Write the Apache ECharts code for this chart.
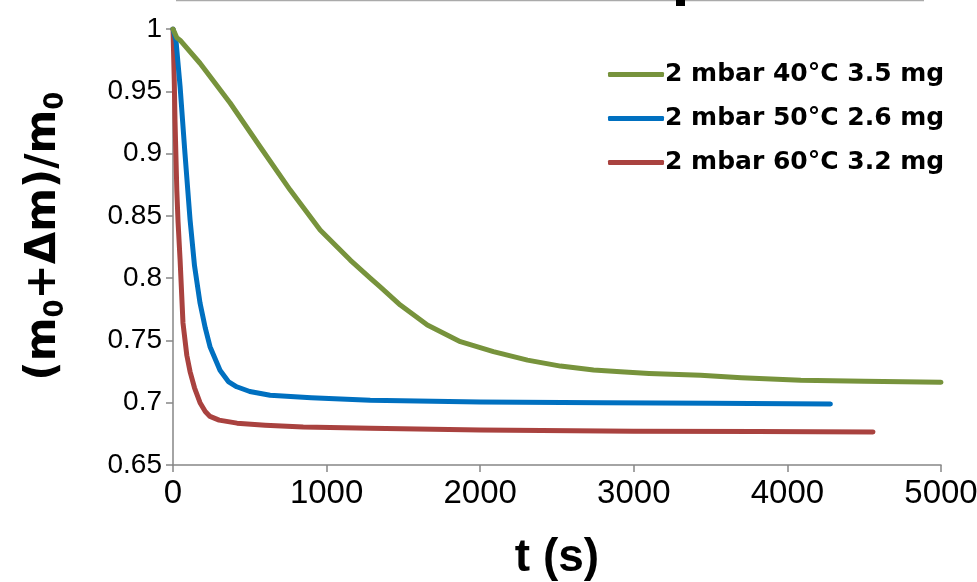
<!DOCTYPE html>
<html>
<head>
<meta charset="utf-8">
<script src="https://cdn.jsdelivr.net/npm/echarts@6/dist/echarts.min.js"></script>
<style>html,body{margin:0;padding:0;background:#fff}#c{width:977px;height:582px}</style>
</head>
<body>
<div id="c"></div>
<script>
// Series names
const seriesNames = ['2 mbar 40°C 3.5 mg', '2 mbar 50°C 2.6 mg', '2 mbar 60°C 3.2 mg'];

// 40°C series: time (s) and (m0+Δm)/m0
const t40 = [0, 25, 46, 176, 372, 567, 763, 958, 1154, 1284, 1349, 1480, 1656, 1871, 2086, 2308, 2523, 2738, 2914, 3100, 3435, 3700, 4087, 4500, 5000];
const v40 = [1.0, 0.993, 0.991, 0.9725, 0.9406, 0.9055, 0.8707, 0.8386, 0.8145, 0.800, 0.793, 0.7784, 0.7623, 0.749, 0.741, 0.7342, 0.7294, 0.7262, 0.7248, 0.7235, 0.722, 0.720, 0.718, 0.7172, 0.7165];

// 50°C series
const t50 = [0, 20, 46, 78, 111, 140, 176, 210, 241, 306, 360, 415, 500, 632, 900, 1284, 2000, 2800, 3500, 4280];
const v50 = [1.0, 0.99, 0.954, 0.900, 0.847, 0.81, 0.780, 0.76, 0.745, 0.726, 0.717, 0.7128, 0.709, 0.706, 0.704, 0.702, 0.7005, 0.700, 0.6995, 0.699];

// 60°C series
const t60 = [0, 8, 13, 25, 33, 46, 65, 90, 111, 140, 176, 210, 241, 300, 417, 600, 848, 1284, 2000, 3000, 3800, 4557];
const v60 = [1.0, 0.96, 0.927, 0.87, 0.845, 0.815, 0.764, 0.738, 0.725, 0.712, 0.700, 0.693, 0.689, 0.686, 0.6836, 0.682, 0.6805, 0.6795, 0.678, 0.677, 0.6768, 0.6764];

// Axis ticks
const xTicks = [0, 1000, 2000, 3000, 4000, 5000];
const yTicks = [0.65, 0.7, 0.75, 0.8, 0.85, 0.9, 0.95, 1];

const colors = ['#77933C', '#0070C0', '#A9423F'];
const zip = (a, b) => a.map((x, i) => [x, b[i]]);
const datasets = [zip(t40, v40), zip(t50, v50), zip(t60, v60)];

const chart = echarts.init(document.getElementById('c'), null, {renderer: 'canvas'});
const axisColor = '#868686';
chart.setOption({
  animation: false,
  backgroundColor: '#fff',
  grid: {left: 173, right: 36, top: 29, bottom: 117, containLabel: false, outerBoundsMode: 'none'},
  legend: {
    orient: 'vertical',
    left: 603,
    top: 57,
    itemWidth: 56,
    itemHeight: 5,
    itemGap: 19,
    icon: 'roundRect',
    textStyle: {fontFamily: 'DejaVu Sans', fontWeight: 'bold', fontSize: 25, color: '#000', padding: [0, 0, 0, -4]},
    data: seriesNames
  },
  xAxis: {
    type: 'value',
    min: xTicks[0], max: xTicks[xTicks.length - 1], interval: 1000,
    name: 't (s)',
    nameLocation: 'middle',
    nameGap: 70,
    nameTextStyle: {fontFamily: 'Liberation Sans', fontWeight: 'bold', fontSize: 46, color: '#000'},
    axisLine: {lineStyle: {color: axisColor, width: 1.5}},
    axisTick: {show: true, inside: false, length: 7, lineStyle: {color: axisColor, width: 1.5}},
    axisLabel: {fontFamily: 'Liberation Sans', fontSize: 33, color: '#000', margin: 12,
      formatter: v => String(Math.round(v))},
    splitLine: {show: false}
  },
  yAxis: {
    type: 'value',
    min: yTicks[0], max: yTicks[yTicks.length - 1], interval: 0.05,
    name: '(m{sub|0}+Δm)/m{sub|0}',
    nameLocation: 'middle',
    nameGap: 104,
    nameRotate: 90,
    nameTextStyle: {
      fontFamily: 'DejaVu Sans', fontWeight: 'bold', fontSize: 42, color: '#000', lineHeight: 50,
      padding: [0, 0, 0, 22],
      rich: {sub: {fontFamily: 'DejaVu Sans', fontWeight: 'bold', fontSize: 26, color: '#000', verticalAlign: 'bottom', lineHeight: 38}}
    },
    axisLine: {show: true, lineStyle: {color: axisColor, width: 1.5}},
    axisTick: {show: true, inside: false, length: 7, lineStyle: {color: axisColor, width: 1.5}},
    axisLabel: {fontFamily: 'Liberation Sans', fontSize: 28, color: '#000', margin: 11,
      formatter: v => String(parseFloat(v.toFixed(2)))},
    splitLine: {show: false}
  },
  graphic: [
    {type: 'line', shape: {x1: 176, y1: 0.5, x2: 924, y2: 0.5}, style: {stroke: '#aaaaaa', lineWidth: 1.5}},
    {type: 'rect', shape: {x: 676, y: 0, width: 9, height: 6}, style: {fill: '#000'}}
  ],
  series: seriesNames.map((n, i) => ({
    name: n,
    type: 'line',
    data: datasets[i],
    showSymbol: false,
    smooth: false,
    lineStyle: {color: colors[i], width: 5, cap: 'round', join: 'round'},
    itemStyle: {color: colors[i]},
    z: 3 - i
  }))
});
</script>
</body>
</html>
